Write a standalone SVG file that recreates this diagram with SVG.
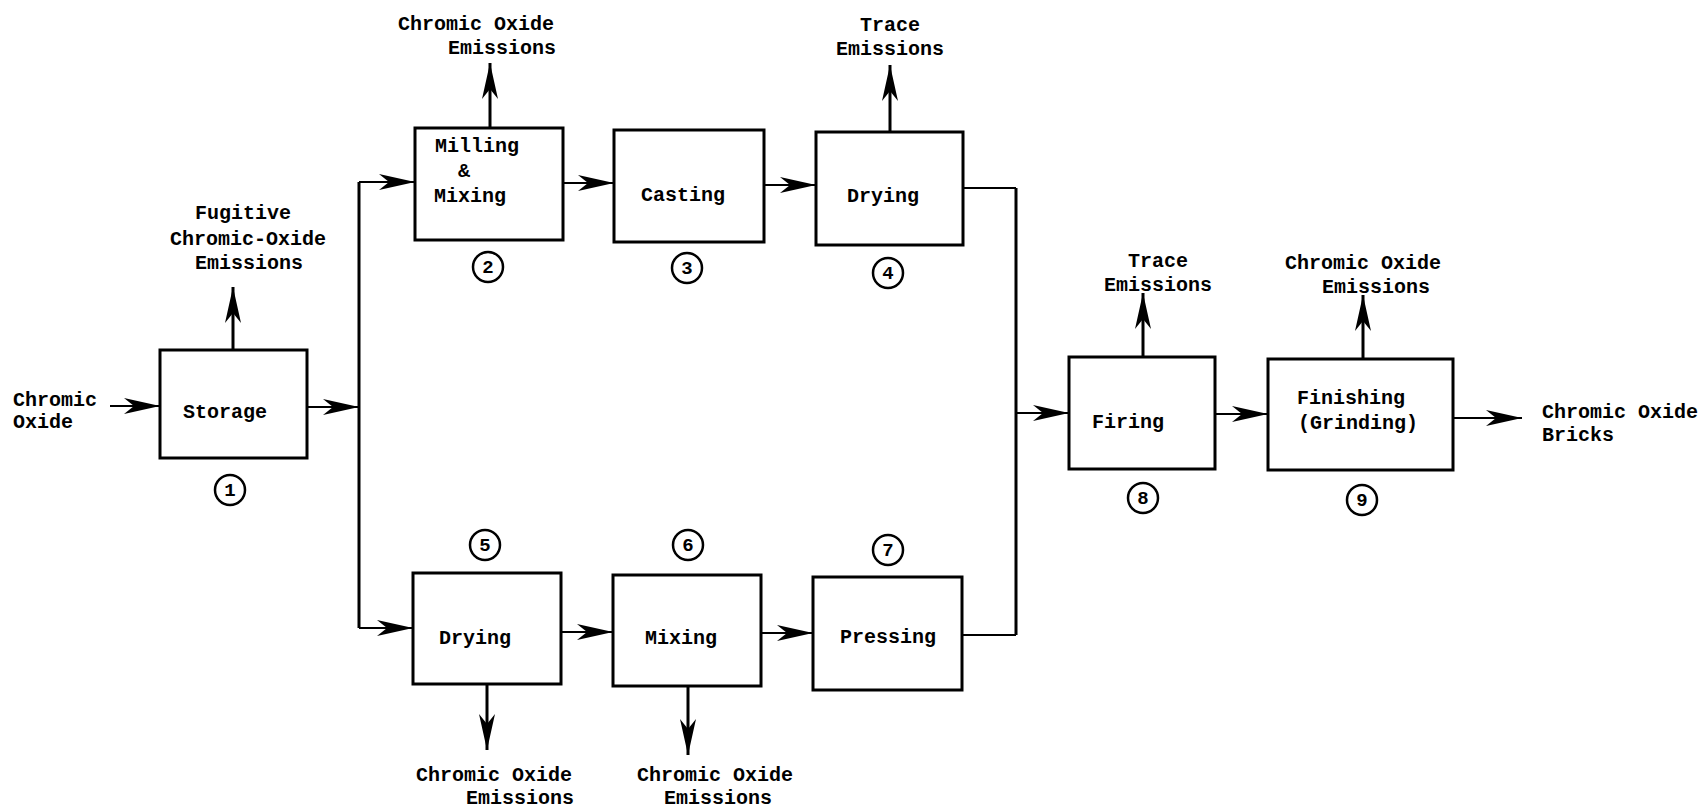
<svg xmlns="http://www.w3.org/2000/svg" width="1701" height="810" viewBox="0 0 1701 810">
<style>
.box{fill:#fff;stroke:#000;stroke-width:3}
.t{font-family:"Liberation Mono","DejaVu Sans Mono",monospace;font-weight:bold;font-size:20px;fill:#000}
.c{fill:none;stroke:#000;stroke-width:2.5}
.n{font-family:"Liberation Mono","DejaVu Sans Mono",monospace;font-weight:bold;font-size:19px;fill:#000;text-anchor:middle}
.ln{fill:none;stroke:#000;stroke-width:2.2}
.em{fill:none;stroke:#000;stroke-width:3}
</style>
<defs>
<marker id="ah" markerUnits="userSpaceOnUse" markerWidth="44" markerHeight="22" viewBox="-40 -11 44 22" refX="0" refY="0" orient="auto">
<path d="M0,0 L-36,-8 L-26,0 L-36,8 Z" fill="#000"/>
</marker>
</defs>
<rect width="1701" height="810" fill="#fff"/>
<g id="connectors">
<line class="ln" x1="110" y1="406" x2="160" y2="406" marker-end="url(#ah)"/>
<line class="ln" x1="307" y1="407" x2="359" y2="407" marker-end="url(#ah)"/>
<polyline class="em" points="359,182 359,628"/>
<line class="ln" x1="359" y1="182" x2="415" y2="182" marker-end="url(#ah)"/>
<line class="ln" x1="359" y1="628" x2="413" y2="628" marker-end="url(#ah)"/>
<line class="ln" x1="563" y1="183" x2="614" y2="183" marker-end="url(#ah)"/>
<line class="ln" x1="764" y1="185" x2="816" y2="185" marker-end="url(#ah)"/>
<polyline class="ln" points="963,188 1016,188"/>
<polyline class="em" points="1016,188 1016,635"/>
<polyline class="ln" points="962,635 1016,635"/>
<line class="ln" x1="1016" y1="413" x2="1069" y2="413" marker-end="url(#ah)"/>
<line class="ln" x1="561" y1="632" x2="613" y2="632" marker-end="url(#ah)"/>
<line class="ln" x1="761" y1="633" x2="813" y2="633" marker-end="url(#ah)"/>
<line class="ln" x1="1215" y1="414" x2="1268" y2="414" marker-end="url(#ah)"/>
<line class="ln" x1="1453" y1="418" x2="1522" y2="418" marker-end="url(#ah)"/>
<line class="em" x1="233" y1="350" x2="233" y2="287" marker-end="url(#ah)"/>
<line class="em" x1="490" y1="128" x2="490" y2="63" marker-end="url(#ah)"/>
<line class="em" x1="890" y1="132" x2="890" y2="65" marker-end="url(#ah)"/>
<line class="em" x1="1143" y1="357" x2="1143" y2="293" marker-end="url(#ah)"/>
<line class="em" x1="1363" y1="359" x2="1363" y2="295" marker-end="url(#ah)"/>
<line class="em" x1="487" y1="684" x2="487" y2="750" marker-end="url(#ah)"/>
<line class="em" x1="688" y1="686" x2="688" y2="755" marker-end="url(#ah)"/>
</g>
<g id="labels">
<text class="t" x="13" y="406">Chromic</text>
<text class="t" x="13" y="428">Oxide</text>
<text class="t" x="195" y="219">Fugitive</text>
<text class="t" x="170" y="245">Chromic-Oxide</text>
<text class="t" x="195" y="269">Emissions</text>
<text class="t" x="398" y="30">Chromic Oxide</text>
<text class="t" x="448" y="54">Emissions</text>
<text class="t" x="860" y="31">Trace</text>
<text class="t" x="836" y="55">Emissions</text>
<text class="t" x="1128" y="267">Trace</text>
<text class="t" x="1104" y="291">Emissions</text>
<text class="t" x="1285" y="269">Chromic Oxide</text>
<text class="t" x="1322" y="293">Emissions</text>
<text class="t" x="1542" y="418">Chromic Oxide</text>
<text class="t" x="1542" y="441">Bricks</text>
<text class="t" x="416" y="781">Chromic Oxide</text>
<text class="t" x="466" y="804">Emissions</text>
<text class="t" x="637" y="781">Chromic Oxide</text>
<text class="t" x="664" y="804">Emissions</text>
</g>
<g id="n1">
<rect class="box" x="160" y="350" width="147" height="108"/>
<text class="t" x="183" y="418">Storage</text>
<circle class="c" cx="230" cy="490" r="15"/><text class="n" x="230" y="496">1</text>
</g>
<g id="n2">
<rect class="box" x="415" y="128" width="148" height="112"/>
<text class="t" x="435" y="152">Milling</text>
<text class="t" x="458" y="177">&amp;</text>
<text class="t" x="434" y="202">Mixing</text>
<circle class="c" cx="488" cy="267" r="15"/><text class="n" x="488" y="273">2</text>
</g>
<g id="n3">
<rect class="box" x="614" y="130" width="150" height="112"/>
<text class="t" x="641" y="201">Casting</text>
<circle class="c" cx="687" cy="268" r="15"/><text class="n" x="687" y="274">3</text>
</g>
<g id="n4">
<rect class="box" x="816" y="132" width="147" height="113"/>
<text class="t" x="847" y="202">Drying</text>
<circle class="c" cx="888" cy="273" r="15"/><text class="n" x="888" y="279">4</text>
</g>
<g id="n5">
<rect class="box" x="413" y="573" width="148" height="111"/>
<text class="t" x="439" y="644">Drying</text>
<circle class="c" cx="485" cy="545" r="15"/><text class="n" x="485" y="551">5</text>
</g>
<g id="n6">
<rect class="box" x="613" y="575" width="148" height="111"/>
<text class="t" x="645" y="644">Mixing</text>
<circle class="c" cx="688" cy="545" r="15"/><text class="n" x="688" y="551">6</text>
</g>
<g id="n7">
<rect class="box" x="813" y="577" width="149" height="113"/>
<text class="t" x="840" y="643">Pressing</text>
<circle class="c" cx="888" cy="550" r="15"/><text class="n" x="888" y="556">7</text>
</g>
<g id="n8">
<rect class="box" x="1069" y="357" width="146" height="112"/>
<text class="t" x="1092" y="428">Firing</text>
<circle class="c" cx="1143" cy="498" r="15"/><text class="n" x="1143" y="504">8</text>
</g>
<g id="n9">
<rect class="box" x="1268" y="359" width="185" height="111"/>
<text class="t" x="1297" y="404">Finishing</text>
<text class="t" x="1298" y="429">(Grinding)</text>
<circle class="c" cx="1362" cy="500" r="15"/><text class="n" x="1362" y="506">9</text>
</g>
</svg>
